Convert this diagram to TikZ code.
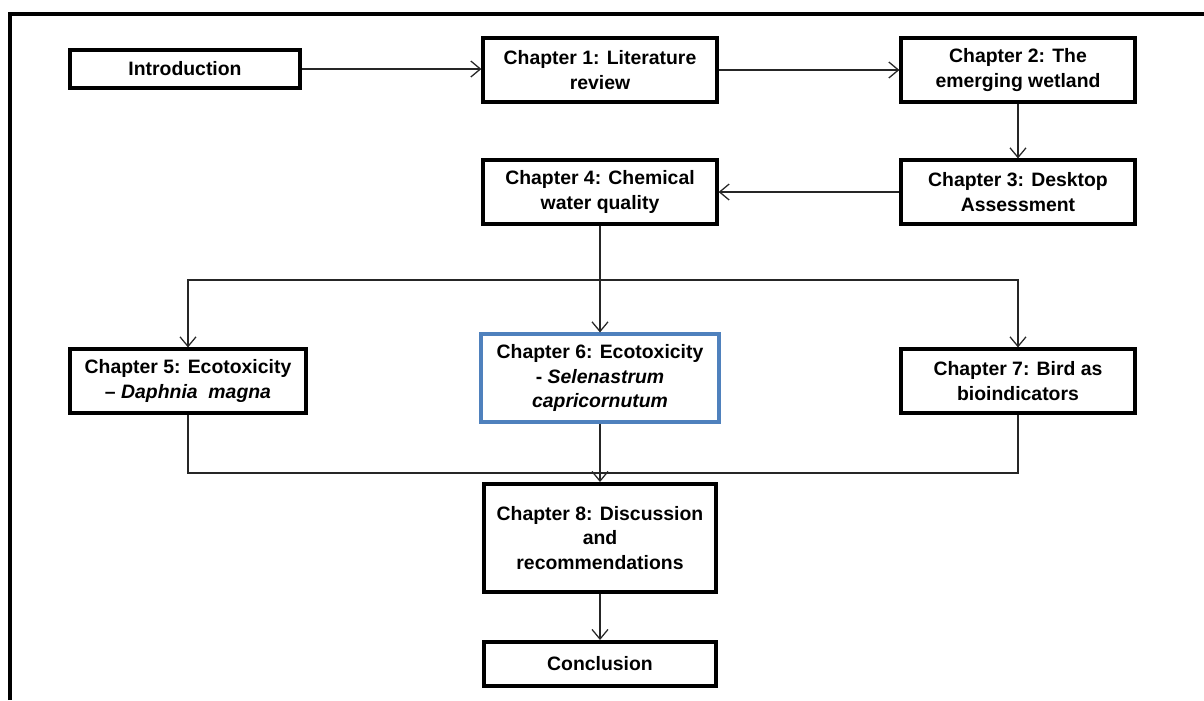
\documentclass[tikz,border=0pt]{standalone}
\usepackage{fontspec}
\setmainfont{Liberation Sans}
\usetikzlibrary{arrows.meta, positioning}

\definecolor{chapblue}{RGB}{79,129,189}

\begin{document}
\begin{tikzpicture}[
    x=0.025cm, y=-0.025cm,
    >={Straight Barb[length=2.4mm, width=4mm]},
    link/.style={line width=0.9pt, draw=black!85},
    block/.style={draw, rectangle, line width=2.8pt, minimum width=5.83cm, minimum height=1.58cm,
        align=center, fill=white, inner sep=1pt,
        font=\fontsize{13.8}{17.4}\selectfont\bfseries},
    bluebox/.style={block, draw=chapblue, minimum width=5.93cm, minimum height=2.18cm}
]
    \useasboundingbox (0,0) rectangle (1204,700);

    % Outer frame
    \draw[line width=3pt] (10,700) -- (10,14) -- (1204,14);

    % Top rows
    \node[block, minimum width=5.75cm, minimum height=0.95cm] (intro) at (185,69) {Introduction};
    \node[block] (ch1) at (600,70) {Chapter 1: Literature\\review};
    \node[block] (ch2) at (1018,70) {Chapter 2: The\\emerging wetland};
    \node[block] (ch3) at (1018,192) {Chapter 3: Desktop\\Assessment};
    \node[block] (ch4) at (600,192) {Chapter 4: Chemical\\water quality};

    % Ecotoxicity row
    \node[block, minimum width=5.88cm] (ch5) at (188,381) {Chapter 5: Ecotoxicity\\– \textit{Daphnia\ \ magna}};
    \node[bluebox] (ch6) at (600,378) {Chapter 6: Ecotoxicity\\- \textit{Selenastrum}\\\textit{capricornutum}};
    \node[block] (ch7) at (1018,381) {Chapter 7: Bird as\\bioindicators};

    % Bottom
    \node[block, minimum width=5.8cm, minimum height=2.7cm] (ch8) at (600,538) {Chapter 8: Discussion\\and\\recommendations};
    \node[block, minimum width=5.8cm, minimum height=1.1cm] (conc) at (600,664) {Conclusion};

    \coordinate (branch) at (600,280);
    \coordinate (merge) at (600,473);

    % Connectors
    \draw[link, ->] (intro.east) -- (intro.east -| ch1.west);
    \draw[link, ->] (ch1) -- (ch2);
    \draw[link, ->] (ch2) -- (ch3);
    \draw[link, ->] (ch3) -- (ch4);
    \draw[link, ->] (ch4) -- (ch6);
    \draw[link, ->] (branch) -| (ch5.north);
    \draw[link, ->] (branch) -| (ch7.north);
    \draw[link] (ch5.south) |- (merge);
    \draw[link] (ch7.south) |- (merge);
    \draw[link, ->] (ch6) -- (ch8);
    \draw[link, ->] (ch8) -- (conc);

\end{tikzpicture}
\end{document}
